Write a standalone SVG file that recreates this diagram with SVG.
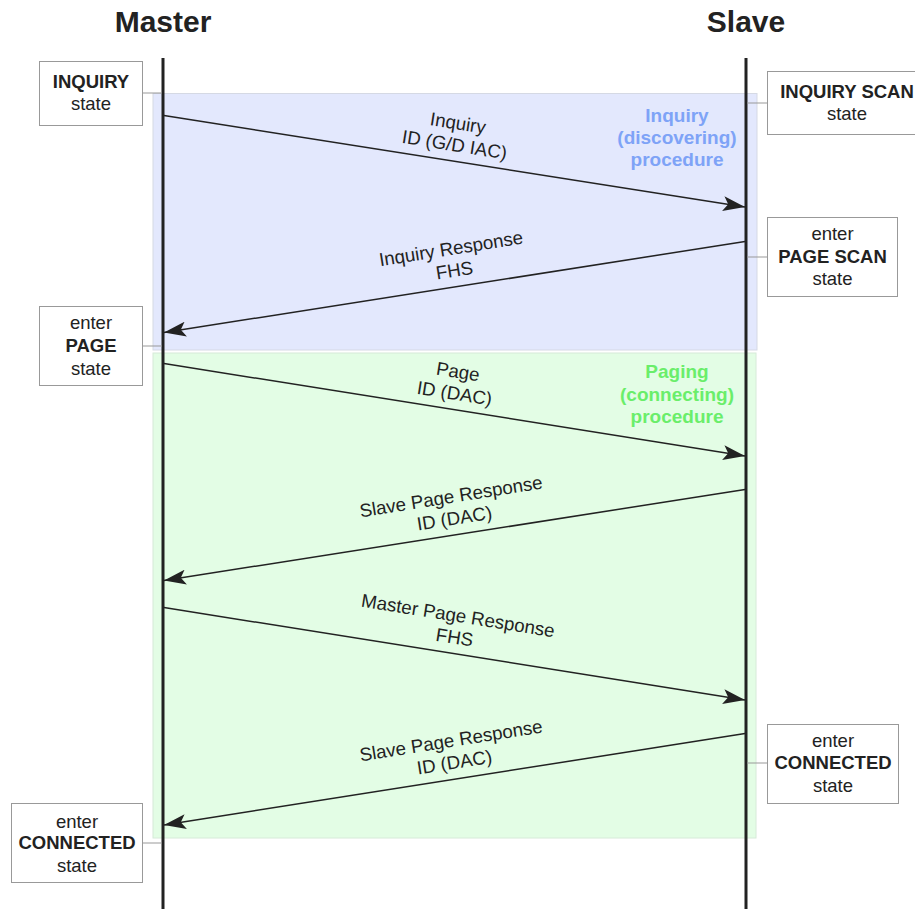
<svg xmlns="http://www.w3.org/2000/svg" width="915" height="909" viewBox="0 0 915 909">
  <style>
    .title { font-family: "Liberation Sans", Arial, sans-serif; font-size: 30px; font-weight: bold; fill: #222; text-anchor: middle; }
    .box { fill: #fff; stroke: #999; stroke-width: 1; }
    .btxt { font-family: "Liberation Sans", Arial, sans-serif; font-size: 18.5px; fill: #222; text-anchor: middle; }
    .b { font-weight: bold; }
    .link { stroke: #999; stroke-width: 1; fill: none; }
    .life { stroke: #222; stroke-width: 3; }
    .msg { stroke: #222; stroke-width: 1.5; fill: none; marker-end: url(#ah); }
    .mtxt { font-family: "Liberation Sans", Arial, sans-serif; font-size: 18.7px; fill: #222; text-anchor: middle; }
    .proc { font-family: "Liberation Sans", Arial, sans-serif; font-size: 19px; font-weight: bold; text-anchor: middle; }
  </style>
  <defs>
    <marker id="ah" viewBox="0 0 22 15" refX="22" refY="7.5" markerWidth="22" markerHeight="15" markerUnits="userSpaceOnUse" orient="auto">
      <path d="M0,0 L22,7.5 L0,15 L5,7.5 Z" fill="#222"/>
    </marker>
  </defs>

  <!-- procedure phases -->
  <g id="inquiry-phase">
    <rect x="153" y="93.5" width="604" height="256.5" fill="#e3e8fd" stroke="#d5d9e4" stroke-width="1"/>
    <text class="proc" fill="#7ea3f7" x="677" y="121.5">Inquiry</text>
    <text class="proc" fill="#7ea3f7" x="677" y="144">(discovering)</text>
    <text class="proc" fill="#7ea3f7" x="677" y="166">procedure</text>
  </g>
  <g id="paging-phase">
    <rect x="153" y="353" width="603" height="485" fill="#e3fde5" stroke="#d6ead8" stroke-width="1"/>
    <text class="proc" fill="#6aee6a" x="677" y="378">Paging</text>
    <text class="proc" fill="#6aee6a" x="677" y="400.5">(connecting)</text>
    <text class="proc" fill="#6aee6a" x="677" y="422.5">procedure</text>
  </g>

  <!-- lifelines -->
  <g id="master">
    <text class="title" x="163" y="32">Master</text>
    <line class="life" x1="163" y1="58" x2="163" y2="909"/>
  </g>
  <g id="slave">
    <text class="title" x="746" y="32">Slave</text>
    <line class="life" x1="746" y1="58" x2="746" y2="909"/>
  </g>

  <!-- state boxes -->
  <g id="inquiry-state">
    <line class="link" x1="142" y1="93" x2="162" y2="93"/>
    <rect class="box" x="39.5" y="61.5" width="103" height="64"/>
    <text class="btxt b" x="91" y="87.5">INQUIRY</text>
    <text class="btxt" x="91" y="110">state</text>
  </g>
  <g id="inquiry-scan-state">
    <line class="link" x1="747" y1="103" x2="767" y2="103"/>
    <rect class="box" x="767.5" y="71.5" width="160" height="63"/>
    <text class="btxt b" x="847" y="97.5">INQUIRY SCAN</text>
    <text class="btxt" x="847" y="119.5">state</text>
  </g>
  <g id="page-scan-state">
    <line class="link" x1="747" y1="257" x2="767" y2="257"/>
    <rect class="box" x="767.5" y="217.5" width="130" height="79"/>
    <text class="btxt" x="832.5" y="239.5">enter</text>
    <text class="btxt b" x="832.5" y="262.5">PAGE SCAN</text>
    <text class="btxt" x="832.5" y="284.5">state</text>
  </g>
  <g id="page-state">
    <line class="link" x1="142" y1="346" x2="162" y2="346"/>
    <rect class="box" x="39.5" y="306.5" width="103" height="79"/>
    <text class="btxt" x="91" y="328.5">enter</text>
    <text class="btxt b" x="91" y="351.5">PAGE</text>
    <text class="btxt" x="91" y="374.5">state</text>
  </g>
  <g id="slave-connected-state">
    <line class="link" x1="747" y1="763" x2="767" y2="763"/>
    <rect class="box" x="767.5" y="724.5" width="131" height="79"/>
    <text class="btxt" x="833" y="746.5">enter</text>
    <text class="btxt b" x="833" y="768.5">CONNECTED</text>
    <text class="btxt" x="833" y="791.5">state</text>
  </g>
  <g id="master-connected-state">
    <line class="link" x1="142" y1="843" x2="162" y2="843"/>
    <rect class="box" x="11.5" y="803.5" width="131" height="79"/>
    <text class="btxt" x="77" y="827.5">enter</text>
    <text class="btxt b" x="77" y="848.5">CONNECTED</text>
    <text class="btxt" x="77" y="871.5">state</text>
  </g>

  <!-- messages -->
  <g id="messages">
    <line class="msg" x1="164" y1="115.5" x2="745" y2="207"/>
    <g transform="translate(452,161) rotate(9.07)">
      <text class="mtxt" x="0" y="-32">Inquiry</text>
      <text class="mtxt" x="0" y="-10">ID (G/D IAC)</text>
    </g>

    <line class="msg" x1="745" y1="241.5" x2="164" y2="332.5"/>
    <g transform="translate(457,286.5) rotate(-9.07)">
      <text class="mtxt" x="0" y="-32">Inquiry Response</text>
      <text class="mtxt" x="0" y="-10">FHS</text>
    </g>

    <line class="msg" x1="164" y1="363.5" x2="745" y2="456"/>
    <g transform="translate(452,409.5) rotate(9.07)">
      <text class="mtxt" x="0" y="-32">Page</text>
      <text class="mtxt" x="0" y="-10">ID (DAC)</text>
    </g>

    <line class="msg" x1="745" y1="489.5" x2="164" y2="580.5"/>
    <g transform="translate(457,534.5) rotate(-9.07)">
      <text class="mtxt" x="0" y="-32">Slave Page Response</text>
      <text class="mtxt" x="0" y="-10">ID (DAC)</text>
    </g>

    <line class="msg" x1="164" y1="607.5" x2="745" y2="700"/>
    <g transform="translate(452,653.5) rotate(9.07)">
      <text class="mtxt" x="0" y="-32">Master Page Response</text>
      <text class="mtxt" x="0" y="-10">FHS</text>
    </g>

    <line class="msg" x1="745" y1="733.5" x2="164" y2="825"/>
    <g transform="translate(457,778.5) rotate(-9.07)">
      <text class="mtxt" x="0" y="-32">Slave Page Response</text>
      <text class="mtxt" x="0" y="-10">ID (DAC)</text>
    </g>
  </g>
</svg>
